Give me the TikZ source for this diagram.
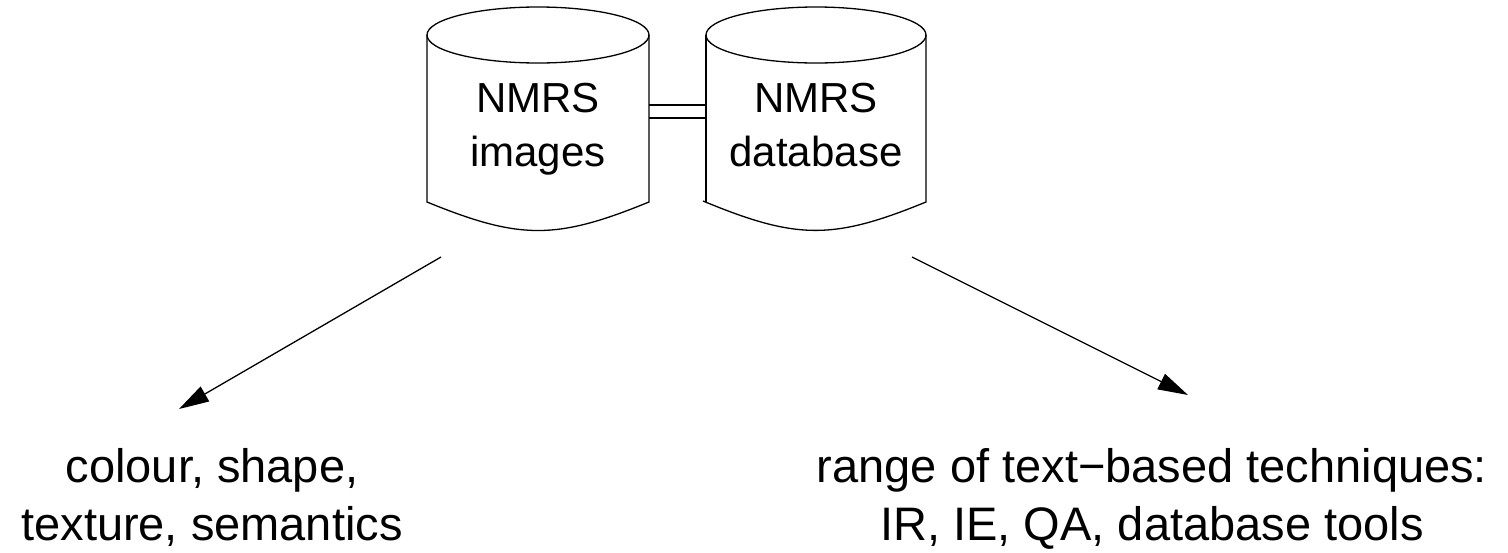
\documentclass[tikz,border=0pt]{standalone}
\usepackage{fontspec}
\setmainfont{Liberation Sans}
\usetikzlibrary{arrows.meta}
\begin{document}
\begin{tikzpicture}[x=1pt,y=-1pt,
  line/.style={line width=1.3pt},
  arr/.style={line width=1.3pt,-{Triangle[length=30pt,width=17pt]}},
  lbl/.style={font=\fontsize{47}{56}\selectfont,anchor=base,inner sep=0pt},
  cyltext/.style={font=\fontsize{42}{52}\selectfont,anchor=base,inner sep=0pt}]
\useasboundingbox (0,0) rectangle (1508,552);
% cylinder 1
\draw[line] (538,35) ellipse [x radius=111, y radius=28];
\draw[line] (427,35) -- (427,202) .. controls (520,240) and (556,240) .. (649,202) -- (649,35);
\node[cyltext] (imgsA) at (538,112) {NMRS};
\node[cyltext] (imgsB) at (538,166) {images};
% cylinder 2
\draw[line] (816,35) ellipse [x radius=110, y radius=28];
\draw[line] (706,35) -- (706,202);
\draw[line] (703,201) .. controls (797,240) and (833,240) .. (926,202) -- (926,35);
\node[cyltext] (dbaseA) at (816,112) {NMRS};
\node[cyltext] (dbaseB) at (816,166) {database};
% double link
\coordinate (l1a) at (649,105); \coordinate (l1b) at (706,105);
\coordinate (l2a) at (649,118); \coordinate (l2b) at (706,118);
\draw[line] (l1a) -- (l1b);
\draw[line] (l2a) -- (l2b);
% arrows
\coordinate (sA) at (441,257); \coordinate (tA) at (179,409);
\coordinate (sB) at (912,257); \coordinate (tB) at (1188,395);
\draw[arr] (sA) -- (tA);
\draw[arr] (sB) -- (tB);
% labels
\node[lbl] (leftA) at (212,482) {colour, shape,};
\node[lbl] (leftB) at (212,540) {texture, semantics};
\node[lbl] (rightA) at (1152,482) {range of text\textminus based techniques:};
\node[lbl] (rightB) at (1152,540) {IR, IE, QA, database tools};
\end{tikzpicture}
\end{document}
